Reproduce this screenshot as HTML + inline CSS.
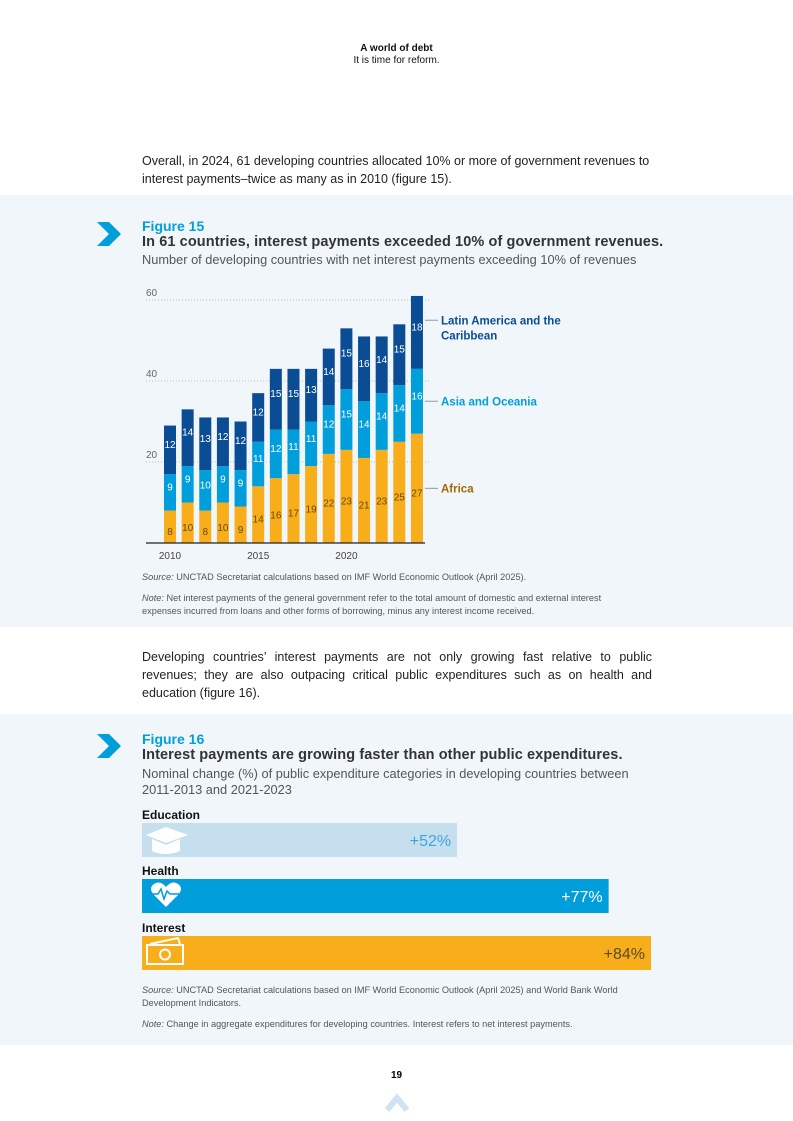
<!DOCTYPE html>
<html><head><meta charset="utf-8"><style>
body{margin:0;width:793px;height:1121px;position:relative;background:#fff;font-family:"Liberation Sans",Arial,sans-serif;overflow:hidden}
.a{position:absolute}
.panel{position:absolute;left:0;width:793px;background:#f1f6fb}
.body{font-size:12.5px;color:#222;line-height:18px}
.fig{color:#009edb;font-weight:bold;font-size:14px}
.ttl{color:#333;font-weight:bold;font-size:14.5px;letter-spacing:0.1px}
.sub{color:#555;font-size:12.8px}
.small{font-size:9.2px;color:#555;line-height:12.5px}
</style></head><body>
<div class="a" style="left:0;width:793px;top:43px;text-align:center;font-size:10px;color:#111;line-height:12px"><b>A world of debt</b><br>It is time for reform.</div>
<div class="a body" style="left:142px;top:152px;width:515px">Overall, in 2024, 61 developing countries allocated 10% or more of government revenues to interest payments–twice as many as in 2010 (figure 15).</div>

<div class="panel" style="top:195px;height:432px"></div>
<svg class="a" style="left:95px;top:220px" width="28" height="28"><polygon points="2,2 14,2 26,14 14,26 2,26 14,14" fill="#009edb"/></svg>
<div class="a fig" style="left:142px;top:218px">Figure 15</div>
<div class="a ttl" style="left:142px;top:234px">In 61 countries, interest payments exceeded 10% of government revenues.</div>
<div class="a sub" style="left:142px;top:252px">Number of developing countries with net interest payments exceeding 10% of revenues</div>

<svg class="a" id="chart" style="left:0;top:0" width="793" height="600"></svg>

<div class="a small" style="left:142px;top:571px"><i>Source:</i> UNCTAD Secretariat calculations based on IMF World Economic Outlook (April 2025).</div>
<div class="a small" style="left:142px;top:592px;width:490px"><i>Note:</i> Net interest payments of the general government refer to the total amount of domestic and external interest expenses incurred from loans and other forms of borrowing, minus any interest income received.</div>

<div class="a body" style="left:142px;top:648px;width:510px;text-align:justify">Developing countries’ interest payments are not only growing fast relative to public revenues; they are also outpacing critical public expenditures such as on health and education (figure 16).</div>

<div class="panel" style="top:714px;height:331px"></div>
<svg class="a" style="left:95px;top:732px" width="28" height="28"><polygon points="2,2 14,2 26,14 14,26 2,26 14,14" fill="#009edb"/></svg>
<div class="a fig" style="left:142px;top:731px">Figure 16</div>
<div class="a ttl" style="left:142px;top:747px">Interest payments are growing faster than other public expenditures.</div>
<div class="a sub" style="left:142px;top:766px;width:505px;line-height:16px">Nominal change (%) of public expenditure categories in developing countries between 2011-2013 and 2021-2023</div>

<svg class="a" id="chart2" style="left:0;top:0" width="793" height="1000"></svg>

<div class="a small" style="left:142px;top:984px;width:500px"><i>Source:</i> UNCTAD Secretariat calculations based on IMF World Economic Outlook (April 2025) and World Bank World Development Indicators.</div>
<div class="a small" style="left:142px;top:1018px"><i>Note:</i> Change in aggregate expenditures for developing countries. Interest refers to net interest payments.</div>

<div class="a" style="left:0;width:793px;top:1070px;text-align:center;font-size:10px;font-weight:bold">19</div>
<svg class="a" style="left:384px;top:1090px" width="26" height="24"><polyline points="3,20 13,8 23,20" fill="none" stroke="#cfe3f3" stroke-width="6"/></svg>

<script>
const years=[2010,2011,2012,2013,2014,2015,2016,2017,2018,2019,2020,2021,2022,2023,2024];
const africa=[8,10,8,10,9,14,16,17,19,22,23,21,23,25,27];
const asia=[9,9,10,9,9,11,12,11,11,12,15,14,14,14,16];
const latam=[12,14,13,12,12,12,15,15,13,14,15,16,14,15,18];
const yTicks=[20,40,60];
const xTickYears=[2010,2015,2020];
const NS="http://www.w3.org/2000/svg";
const svg=document.getElementById('chart');
const base=543,ppu=4.05,x0=164,pitch=17.64,bw=12;
const Y=v=>base-v*ppu, X=i=>x0+i*pitch;
function mk(t,a,p){const e=document.createElementNS(NS,t);for(const k in a)e.setAttribute(k,a[k]);(p||svg).appendChild(e);return e;}
yTicks.forEach(v=>{
 const l=mk('line',{x1:146,x2:430,y1:Y(v),y2:Y(v),stroke:'#aaa','stroke-dasharray':'1,2','stroke-width':0.8});
 
 
 const t=mk('text',{x:146,y:Y(v)-4,'font-size':10,fill:'#666'});t.textContent=v;
 
 
});
const series=[[africa,'#f8ae1a','#6b4a00','africa'],[asia,'#009edb','#fff','asia'],[latam,'#0a4d94','#fff','latam']];
years.forEach((yr,i)=>{
 let cum=0;
 series.forEach(([arr,col,tc,nm])=>{
  const v=arr[i];
  const r=mk('rect',{x:X(i),y:Y(cum+v),width:bw,height:v*ppu,fill:col});
  
  
  const t=mk('text',{x:X(i)+bw/2,y:Y(cum+v/2)+(nm=='africa'?8:-2),'text-anchor':'middle','font-size':10,fill:tc});
  t.textContent=v;
  
  
  cum+=v;
 });
});
const ax=mk('line',{x1:146,x2:425,y1:base,y2:base,stroke:'#222','stroke-width':1.2});


xTickYears.forEach(yr=>{
 const i=years.indexOf(yr);
 const t=mk('text',{x:X(i)+bw/2,y:559,'text-anchor':'middle','font-size':10,fill:'#444'});t.textContent=yr;
 
 
});
const li=years.length-1;
const legend=[['Latin America and the','Caribbean','#0a4d94',africa[li]+asia[li]+latam[li]/2+3],['Asia and Oceania','','#009edb',africa[li]+asia[li]/2],['Africa','','#a06a00',africa[li]/2]];
legend.forEach(([a,b,col,v],k)=>{
 const y=Y(v);
 const l=mk('line',{x1:425,x2:438,y1:y,y2:y,stroke:'#999','stroke-width':1});
 
 
 const t=mk('text',{x:441,y:y+4,'font-size':11.5,'font-weight':'bold',fill:col});t.textContent=a;
 
 
 if(b){const t2=mk('text',{x:441,y:y+19,'font-size':11.5,'font-weight':'bold',fill:col});t2.textContent=b;
 
 }
});

const cats=['Education','Health','Interest'];
const changes=[52,77,84];
const s2=document.getElementById('chart2');
const bx=142,pp=6.06,tops=[823,879,936],bh=34;
const fills=['#c5dfee','#009edb','#f8ae1a'],tcols=['#3da5dc','#fff','#5a4a2a'];
cats.forEach((c,i)=>{
 const lab=mk('text',{x:bx,y:tops[i]-4,'font-size':12,'font-weight':'bold',fill:'#111'},s2);lab.textContent=c;
 
 
 const r=mk('rect',{x:bx,y:tops[i],width:changes[i]*pp,height:bh,fill:fills[i]},s2);
 
 
 const t=mk('text',{x:bx+changes[i]*pp-6,y:tops[i]+23,'text-anchor':'end','font-size':16,fill:tcols[i]},s2);t.textContent='+'+changes[i]+'%';
 
 
});
const g1=mk('g',{fill:'#fff'},s2);


mk('polygon',{points:'146,835 166,827 188,835 166,843'},g1);
mk('path',{d:'M152,839 v12 q14,6 28,0 v-12 l-14,6z'},g1);
const g2=mk('path',{d:'M166,907 L154,895 Q148,888 154,884 Q160,880 166,887 Q172,880 178,884 Q184,888 178,895z',fill:'#fff'},s2);


const pl=mk('polyline',{points:'152,894 158,894 161,889 164,899 167,891 170,894 180,894',fill:'none',stroke:'#009edb','stroke-width':1.5},s2);


const g3=mk('g',{fill:'none',stroke:'#fff','stroke-width':2},s2);


mk('rect',{x:147,y:945,width:36,height:19},g3);
mk('circle',{cx:165,cy:954.5,r:5},g3);
mk('polyline',{points:'150,944 178,938 180,944'},g3);
</script>
</body></html>
